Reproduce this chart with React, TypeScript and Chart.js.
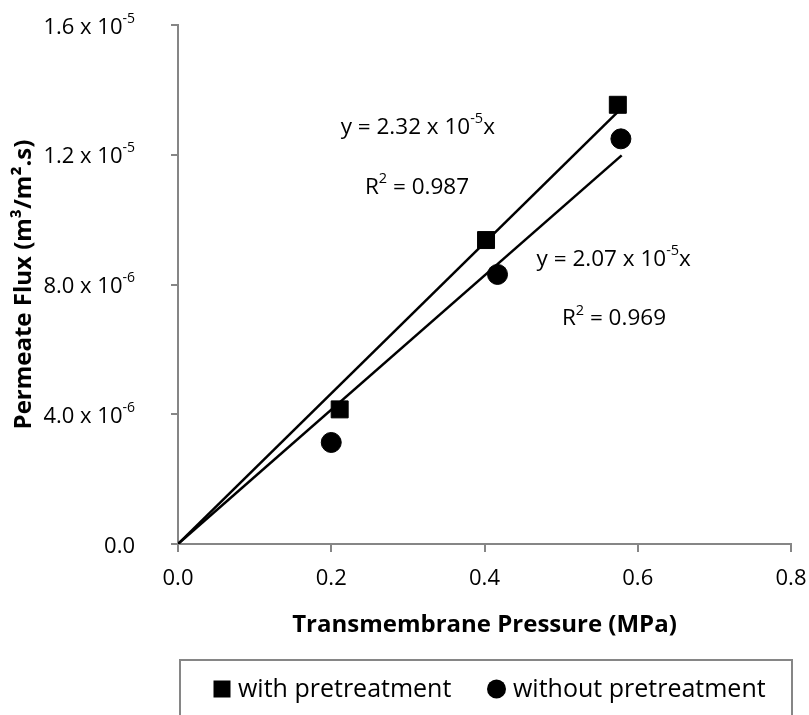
import React, { useEffect, useRef } from "react";
import { Chart, registerables } from "chart.js";

Chart.register(...registerables);

const FAMILY = "'Open Sans', sans-serif";

// ---- data ----
const seriesLabels = ["with pretreatment", "without pretreatment"];
const withX = [0.211, 0.402, 0.574];
const withY = [4.15e-6, 9.37e-6, 1.354e-5];
const withoutX = [0.2, 0.417, 0.578];
const withoutY = [3.13e-6, 8.31e-6, 1.249e-5];
const trendWithX = [0, 0.574];
const trendWithY = [0, 1.332e-5];
const trendWithoutX = [0, 0.579];
const trendWithoutY = [0, 1.198e-5];

const xTickValues = [0, 0.2, 0.4, 0.6, 0.8];
const xTickLabels = ["0.0", "0.2", "0.4", "0.6", "0.8"];
const yTickValues = [0, 4e-6, 8e-6, 1.2e-5, 1.6e-5];
const yTickMantissas = ["0.0", "4.0 x 10", "8.0 x 10", "1.2 x 10", "1.6 x 10"];
const yTickExponents = ["", "-6", "-6", "-5", "-5"];

const xTitle = "Transmembrane Pressure (MPa)";
const yTitle = "Permeate Flux (m³/m².s)";

type Part = { t: string; sup?: boolean };
const eqWith: Part[] = [{ t: "y = 2.32 x 10" }, { t: "-5", sup: true }, { t: "x" }];
const r2With: Part[] = [{ t: "R" }, { t: "2", sup: true }, { t: " = 0.987" }];
const eqWithout: Part[] = [{ t: "y = 2.07 x 10" }, { t: "-5", sup: true }, { t: "x" }];
const r2Without: Part[] = [{ t: "R" }, { t: "2", sup: true }, { t: " = 0.969" }];

const toPoints = (xs: number[], ys: number[]) => xs.map((x, i) => ({ x, y: ys[i] }));

function drawRich(
  ctx: CanvasRenderingContext2D,
  x: number,
  baseline: number,
  parts: Part[],
  size: number,
  supSize: number,
  raise: number,
  align: "left" | "right"
) {
  let total = 0;
  const widths: number[] = [];
  for (const p of parts) {
    ctx.font = `${p.sup ? supSize : size}px ${FAMILY}`;
    const w = ctx.measureText(p.t).width;
    widths.push(w);
    total += w;
  }
  let cx = align === "right" ? x - total : x;
  ctx.textAlign = "left";
  ctx.textBaseline = "alphabetic";
  parts.forEach((p, i) => {
    ctx.font = `${p.sup ? supSize : size}px ${FAMILY}`;
    ctx.fillText(p.t, cx, p.sup ? baseline - raise : baseline);
    cx += widths[i];
  });
}

const overlayPlugin = {
  id: "overlay",
  afterDraw(chart: any) {
    const ctx: CanvasRenderingContext2D = chart.ctx;
    const xs = chart.scales.x;
    const ys = chart.scales.y;
    ctx.save();
    ctx.fillStyle = "#000";

    // y tick labels with superscript exponents
    yTickValues.forEach((v, i) => {
      const py = ys.getPixelForValue(v);
      const parts: Part[] = [{ t: yTickMantissas[i] }];
      if (yTickExponents[i]) parts.push({ t: yTickExponents[i], sup: true });
      drawRich(ctx, chart.chartArea.left - 43, py + 8.5, parts, 22, 14, 11, "right");
    });

    // trendline equations
    drawRich(ctx, xs.getPixelForValue(0.2123), ys.getPixelForValue(1.2655e-5), eqWith, 22.5, 14.5, 10.5, "left");
    drawRich(ctx, xs.getPixelForValue(0.244), ys.getPixelForValue(1.079e-5), r2With, 22.5, 14.5, 10.5, "left");
    drawRich(ctx, xs.getPixelForValue(0.468), ys.getPixelForValue(8.579e-6), eqWithout, 22.5, 14.5, 10.5, "left");
    drawRich(ctx, xs.getPixelForValue(0.501), ys.getPixelForValue(6.751e-6), r2Without, 22.5, 14.5, 10.5, "left");

    // legend box
    const left = chart.chartArea.left + 2;
    const right = chart.chartArea.right + 1;
    ctx.strokeStyle = "#868686";
    ctx.lineWidth = 2;
    ctx.strokeRect(left, 660, right - left, 120);

    const cy = 689;
    const base = 697;
    ctx.fillStyle = "#000";
    // square marker
    ctx.fillRect(213.5, cy - 8.5, 17, 17);
    ctx.font = `25px ${FAMILY}`;
    ctx.textAlign = "left";
    ctx.textBaseline = "alphabetic";
    ctx.fillText(chart.data.datasets[0].label, 238, base);
    // circle marker
    ctx.beginPath();
    ctx.arc(496.5, cy, 9.5, 0, Math.PI * 2);
    ctx.fill();
    ctx.fillText(chart.data.datasets[1].label, 513, base);
    ctx.restore();
  },
};

export default function App() {
  const ref = useRef<HTMLCanvasElement | null>(null);

  useEffect(() => {
    if (!ref.current) return;
    const axisColor = "#868686";
    const chart = new Chart(ref.current, {
      type: "scatter",
      data: {
        datasets: [
          {
            label: seriesLabels[0],
            data: toPoints(withX, withY),
            pointStyle: "rect",
            pointRadius: 12,
            pointHoverRadius: 12,
            backgroundColor: "#000",
            borderColor: "#000",
            borderWidth: 1,
          },
          {
            label: seriesLabels[1],
            data: toPoints(withoutX, withoutY),
            pointStyle: "circle",
            pointRadius: 10,
            pointHoverRadius: 10,
            backgroundColor: "#000",
            borderColor: "#000",
            borderWidth: 1,
          },
          {
            label: "trend with",
            data: toPoints(trendWithX, trendWithY),
            showLine: true,
            pointRadius: 0,
            borderColor: "#000",
            borderWidth: 2.5,
            backgroundColor: "#000",
          },
          {
            label: "trend without",
            data: toPoints(trendWithoutX, trendWithoutY),
            showLine: true,
            pointRadius: 0,
            borderColor: "#000",
            borderWidth: 2.5,
            backgroundColor: "#000",
          },
        ],
      },
      options: {
        responsive: false,
        animation: false,
        events: [],
        layout: { padding: { left: 0, top: 25, right: 18, bottom: 65 } },
        plugins: {
          legend: { display: false },
          tooltip: { enabled: false },
        },
        scales: {
          x: {
            type: "linear",
            min: 0,
            max: 0.8,
            afterBuildTicks: (s: any) => {
              s.ticks = xTickValues.map((v) => ({ value: v }));
            },
            afterFit: (s: any) => {
              s.height = 106;
              s.paddingLeft = 0;
              s.paddingRight = 0;
            },
            ticks: {
              callback: (_v: any, i: number) => xTickLabels[i],
              font: { family: FAMILY, size: 22 },
              color: "#000",
              padding: 14,
              maxRotation: 0,
              autoSkip: false,
            },
            grid: {
              display: true,
              drawOnChartArea: false,
              drawTicks: true,
              tickLength: 8,
              color: axisColor,
              lineWidth: 2,
            },
            border: { display: true, color: axisColor, width: 2 },
            title: {
              display: true,
              text: xTitle,
              color: "#000",
              font: { family: FAMILY, size: 24, weight: "bold" },
              padding: { top: 0, bottom: 10.5 },
            },
          },
          y: {
            type: "linear",
            min: 0,
            max: 1.6e-5,
            afterBuildTicks: (s: any) => {
              s.ticks = yTickValues.map((v) => ({ value: v }));
            },
            afterFit: (s: any) => {
              s.width = 178;
              s.paddingTop = 0;
              s.paddingBottom = 0;
            },
            ticks: { display: false },
            grid: {
              display: true,
              drawOnChartArea: false,
              drawTicks: true,
              tickLength: 7,
              color: axisColor,
              lineWidth: 2,
            },
            border: { display: true, color: axisColor, width: 2 },
            title: {
              display: true,
              text: yTitle,
              color: "#000",
              font: { family: FAMILY, size: 24, weight: "bold" },
              padding: { top: 10, bottom: 0 },
            },
          },
        },
      },
      plugins: [overlayPlugin],
    } as any);
    return () => chart.destroy();
  }, []);

  return (
    <div style={{ position: "fixed", left: 0, top: 0, width: 809, height: 715, background: "#fff" }}>
      <canvas ref={ref} width={809} height={715} style={{ display: "block" }} />
    </div>
  );
}
